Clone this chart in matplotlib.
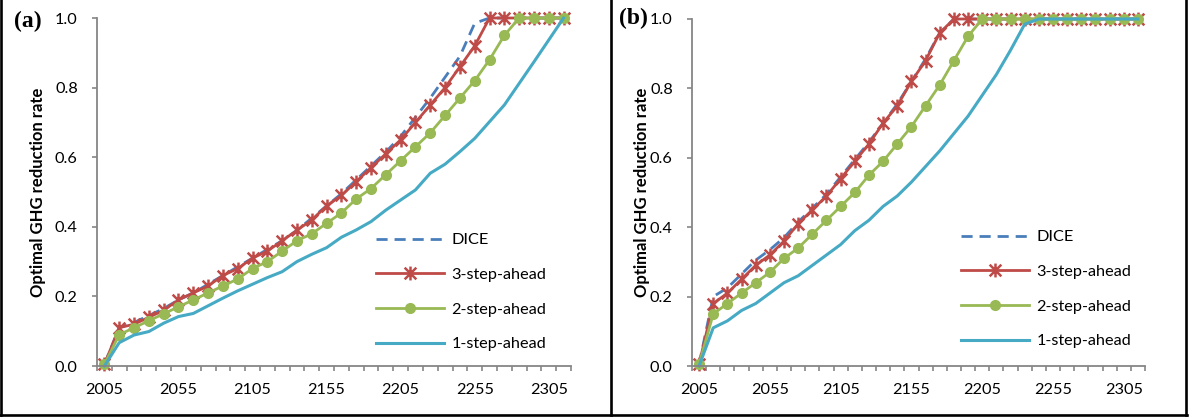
import numpy as np
import matplotlib
matplotlib.use("Agg")
import matplotlib.pyplot as plt
from matplotlib.path import Path
from matplotlib.lines import Line2D

# ---- data -------------------------------------------------------------
years = list(range(2005, 2316, 10))
year_labels = ["2005", "2055", "2105", "2155", "2205", "2255", "2305"]
y_ticks = [0.0, 0.2, 0.4, 0.6, 0.8, 1.0]
series_names = ["DICE", "3-step-ahead", "2-step-ahead", "1-step-ahead"]

# panel (a)
dice_a = [0.005, 0.11, 0.125, 0.145, 0.165, 0.19, 0.21, 0.235, 0.26, 0.285,
          0.31, 0.335, 0.36, 0.39, 0.425, 0.46, 0.495, 0.535, 0.575, 0.615,
          0.66, 0.715, 0.77, 0.83, 0.89, 0.985, 1.0, 1.0, 1.0, 1.0, 1.0, 1.0]
step3_a = [0.005, 0.11, 0.12, 0.14, 0.16, 0.19, 0.21, 0.23, 0.26, 0.28,
           0.31, 0.33, 0.36, 0.39, 0.42, 0.46, 0.49, 0.53, 0.57, 0.61,
           0.65, 0.70, 0.75, 0.80, 0.86, 0.92, 1.0, 1.0, 1.0, 1.0, 1.0, 1.0]
step2_a = [0.005, 0.09, 0.11, 0.13, 0.15, 0.17, 0.19, 0.21, 0.23, 0.25,
           0.28, 0.30, 0.33, 0.36, 0.38, 0.41, 0.44, 0.48, 0.51, 0.55,
           0.59, 0.63, 0.67, 0.72, 0.77, 0.82, 0.88, 0.95, 1.0, 1.0, 1.0, 1.0]
step1_a = [0.0, 0.067, 0.089, 0.099, 0.123, 0.142, 0.151, 0.173, 0.195, 0.216,
           0.235, 0.254, 0.271, 0.300, 0.321, 0.340, 0.370, 0.391, 0.415, 0.448,
           0.477, 0.506, 0.554, 0.580, 0.616, 0.654, 0.702, 0.750, 0.812, 0.874,
           0.937, 1.0]

# panel (b)
dice_b = [0.005, 0.20, 0.225, 0.265, 0.305, 0.335, 0.37, 0.415, 0.455, 0.495,
          0.545, 0.595, 0.645, 0.70, 0.755, 0.82, 0.885, 0.96, 1.0, 1.0,
          1.0, 1.0, 1.0, 1.0, 1.0, 1.0, 1.0, 1.0, 1.0, 1.0, 1.0, 1.0]
step3_b = [0.005, 0.18, 0.21, 0.25, 0.29, 0.32, 0.36, 0.41, 0.45, 0.49,
           0.54, 0.59, 0.64, 0.70, 0.75, 0.82, 0.88, 0.96, 1.0, 1.0,
           1.0, 1.0, 1.0, 1.0, 1.0, 1.0, 1.0, 1.0, 1.0, 1.0, 1.0, 1.0]
step2_b = [0.005, 0.15, 0.18, 0.21, 0.24, 0.27, 0.31, 0.34, 0.38, 0.42,
           0.46, 0.50, 0.55, 0.59, 0.64, 0.69, 0.75, 0.81, 0.88, 0.95,
           1.0, 1.0, 1.0, 1.0, 1.0, 1.0, 1.0, 1.0, 1.0, 1.0, 1.0, 1.0]
step1_b = [0.0, 0.11, 0.13, 0.16, 0.18, 0.21, 0.24, 0.26, 0.29, 0.32,
           0.35, 0.39, 0.42, 0.46, 0.49, 0.53, 0.575, 0.62, 0.67, 0.72,
           0.78, 0.84, 0.91, 0.985, 1.0, 1.0, 1.0, 1.0, 1.0, 1.0, 1.0, 1.0]

# ---- style ------------------------------------------------------------
plt.rcParams['font.family'] = ['Lato', 'DejaVu Sans']
C_DICE = "#4A7EBB"
C_S3 = "#BE4B48"
C_S2 = "#98B954"
C_S1 = "#46AAC5"
GRAY = "#868686"
FS = 11.7

# asterisk marker: an X crossed by a vertical bar
star = Path([(-0.42, -0.42), (0.42, 0.42), (-0.42, 0.42), (0.42, -0.42),
             (0.0, -0.5), (0.0, 0.5)],
            [Path.MOVETO, Path.LINETO] * 3)

W, H = 1193, 419
fig = plt.figure(figsize=(W / 100, H / 100), dpi=100)


def px_axes(left, top, right, bottom):
    return fig.add_axes([left / W, 1 - bottom / H,
                         (right - left) / W, (bottom - top) / H])


def draw_panel(ax, dice, s3, s2, s1, label_x, legend_xy):
    x = np.arange(len(years))
    ax.plot(x, dice, color=C_DICE, lw=2.0, dashes=(4, 2.5),
            label=series_names[0], clip_on=False)
    ax.plot(x, s3, color=C_S3, lw=2.0, marker=star, ms=10, mfc='none',
            mec=C_S3, mew=1.8, label=series_names[1], clip_on=False)
    ax.plot(x, s2, color=C_S2, lw=2.0, marker='o', ms=7, mfc=C_S2,
            mec=C_S2, label=series_names[2], clip_on=False)
    ax.plot(x, s1, color=C_S1, lw=2.2, label=series_names[3], clip_on=False)

    ax.set_xlim(-0.5, len(years) - 0.5)
    ax.set_ylim(0, 1)

    ax.set_xticks(np.arange(0, len(years), 5))
    ax.set_xticklabels(year_labels)
    ax.set_xticks(np.arange(-0.5, len(years)), minor=True)
    ax.tick_params(axis='x', which='major', length=0, pad=12.5, labelsize=FS)
    ax.tick_params(axis='x', which='minor', length=3.8, width=1.2,
                   color=GRAY, direction='out')
    ax.set_yticks(y_ticks)
    ax.set_yticklabels([f"{v:.1f}" for v in y_ticks])
    ax.tick_params(axis='y', length=3.8, width=1.2, color=GRAY,
                   direction='out', pad=10, labelsize=FS)

    for side in ("top", "right"):
        ax.spines[side].set_visible(False)
    for side in ("left", "bottom"):
        ax.spines[side].set_color(GRAY)
        ax.spines[side].set_linewidth(1.3)

    ax.set_ylabel("Optimal GHG reduction rate", fontsize=12, fontweight='bold',
                  va='center')
    ax.yaxis.set_label_coords(label_x, 0.5)

    ax.legend(loc='upper left', bbox_to_anchor=(legend_xy[0] / W, 1 - legend_xy[1] / H),
              bbox_transform=fig.transFigure, frameon=False, borderpad=0,
              borderaxespad=0, handlelength=4.2, handletextpad=0.45,
              labelspacing=1.25, fontsize=FS)


ax_a = px_axes(97, 18, 571, 366)
ax_b = px_axes(692, 19, 1145, 366)

draw_panel(ax_a, dice_a, step3_a, step2_a, step1_a,
           (38 - 97) / (571 - 97), (376, 233))
draw_panel(ax_b, dice_b, step3_b, step2_b, step1_b,
           (642 - 692) / (1145 - 692), (961, 230))

# panel letters
fig.text(28 / W, 1 - 21 / H, "(a)", family='Liberation Serif',
         fontweight='bold', fontsize=17, ha='center', va='center')
fig.text(633 / W, 1 - 18.5 / H, "(b)", family='Liberation Serif',
         fontweight='bold', fontsize=17, ha='center', va='center')

# black frames around the two panels
for xs, ys in [((1.3, 1.3), (0, 414.5)),
               ((611, 611), (0, 414.5)),
               ((1186, 1186), (0, 414.5)),
               ((0, 1187), (414.5, 414.5))]:
    fig.add_artist(Line2D([v / W for v in xs], [1 - v / H for v in ys],
                          transform=fig.transFigure, color='black', lw=1.9))

fig.savefig("out.png", dpi=100)
